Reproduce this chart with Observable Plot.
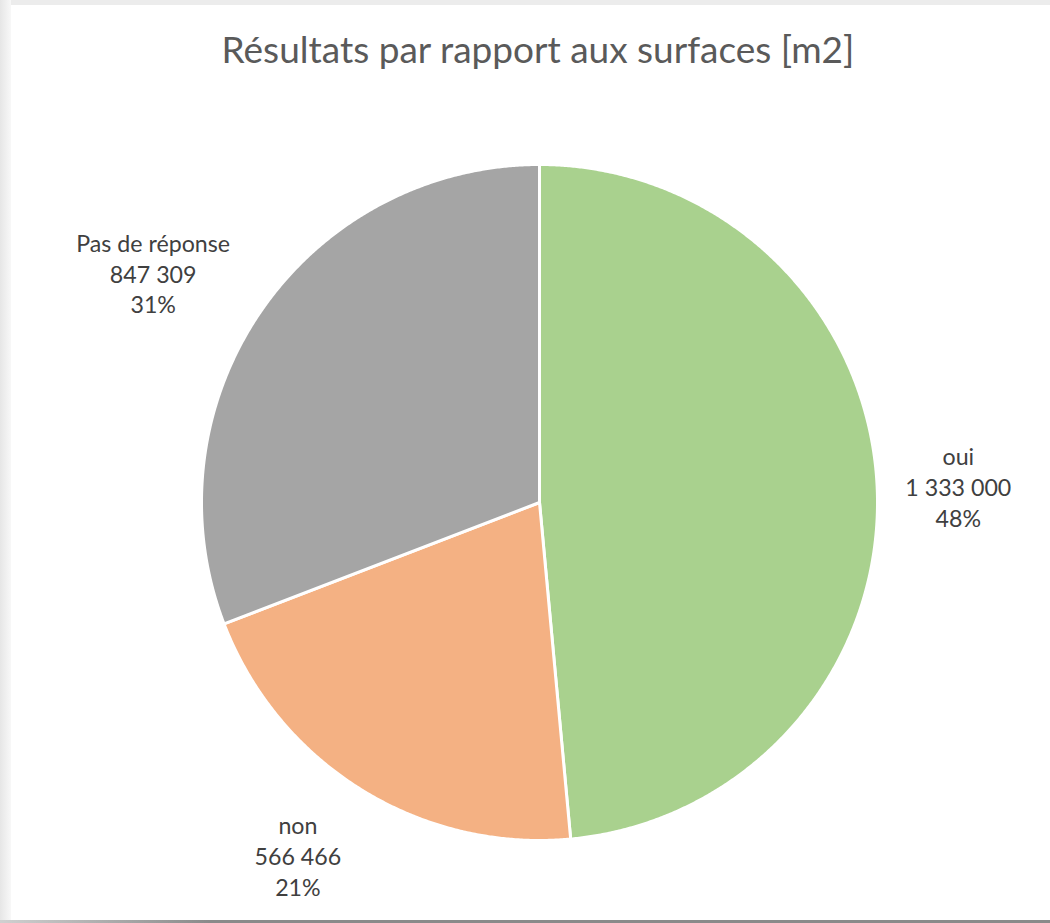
<!DOCTYPE html>
<html><head><meta charset="utf-8">
<script src="https://cdn.jsdelivr.net/npm/d3@7"></script>
<script src="https://cdn.jsdelivr.net/npm/@observablehq/plot@0.6"></script>
<style>
html,body{margin:0;padding:0;background:#fff;}
#wrap{position:relative;width:1050px;height:923px;overflow:hidden;background:#fff;font-family:Lato,"Open Sans",sans-serif;}
#topband{position:absolute;left:0;top:0;width:1050px;height:5px;background:#ececec;}
#leftband{position:absolute;left:0;top:0;width:11px;height:923px;background:linear-gradient(to right,#e6e6e6,#f8f8f8);}
#bottomline{position:absolute;left:0;top:920px;width:1050px;height:3px;background:linear-gradient(to right,#d0d0d0,#8a8a8a 20%,#8a8a8a);}
#title{position:absolute;left:0;top:26px;width:1076px;text-align:center;font-size:37px;color:#5a5a5a;line-height:46px;}
#chart{position:absolute;left:0;top:100px;}
</style></head>
<body>
<div id="wrap">
  <div id="topband"></div>
  <div id="leftband"></div>
  <div id="bottomline"></div>
  <div id="title">Résultats par rapport aux surfaces [m2]</div>
  <div id="chart"></div>
</div>
<script>
const categories = ["oui", "non", "Pas de réponse"];
const values = [1333000, 566466, 847309];
const percentLabels = ["48%", "21%", "31%"];
const valueLabels = ["1 333 000", "566 466", "847 309"];
const colors = ["#A9D18E", "#F4B183", "#A5A5A5"];

const total = d3.sum(values);
let acc = 0;
const slices = categories.map((name, i) => {
  const a0 = acc / total * 2 * Math.PI;
  acc += values[i];
  const a1 = acc / total * 2 * Math.PI;
  return {name, i, a0, a1};
});

// polygon points for each slice (unit circle, y down)
const pts = [];
for (const s of slices) {
  pts.push({name: s.name, x: 0, y: 0});
  const n = Math.max(2, Math.ceil((s.a1 - s.a0) / 0.005));
  for (let k = 0; k <= n; k++) {
    const a = s.a0 + (s.a1 - s.a0) * k / n;
    pts.push({name: s.name, x: Math.sin(a), y: -Math.cos(a)});
  }
}

// label placement (Excel "best fit" outside end)
const labelPlace = {"oui": [1.24, 0.007], "non": [1.265, 0.045], "Pas de réponse": [1.33, -0.065]};
const labels = slices.map(s => {
  const [r, da] = labelPlace[s.name];
  const a = (s.a0 + s.a1) / 2 + da;
  return {x: r * Math.sin(a), y: -r * Math.cos(a),
          text: s.name + "\n" + valueLabels[s.i] + "\n" + percentLabels[s.i]};
});

const W = 1050, H = 823;
const marks = slices.map(s =>
  Plot.line(pts.filter(p => p.name === s.name), {
    x: "x", y: "y", fill: colors[s.i], stroke: "white", strokeWidth: 3,
    strokeLinejoin: "round", curve: "linear-closed"
  })
);
marks.push(Plot.text(labels, {
  x: "x", y: "y", text: "text", fill: "#404040", fontSize: 23.2,
  lineHeight: 1.33, textAnchor: "middle", lineAnchor: "middle",
  fontFamily: "Lato, 'Open Sans', sans-serif"
}));

const chart = Plot.plot({
  width: W, height: H,
  marginLeft: 201, marginRight: W - 877,
  marginTop: 64, marginBottom: H - 740,
  x: {domain: [-1, 1], axis: null},
  y: {domain: [-1, 1], reverse: true, axis: null},
  style: {background: "transparent", overflow: "visible"},
  marks
});
document.getElementById("chart").appendChild(chart);
</script>
</body></html>
